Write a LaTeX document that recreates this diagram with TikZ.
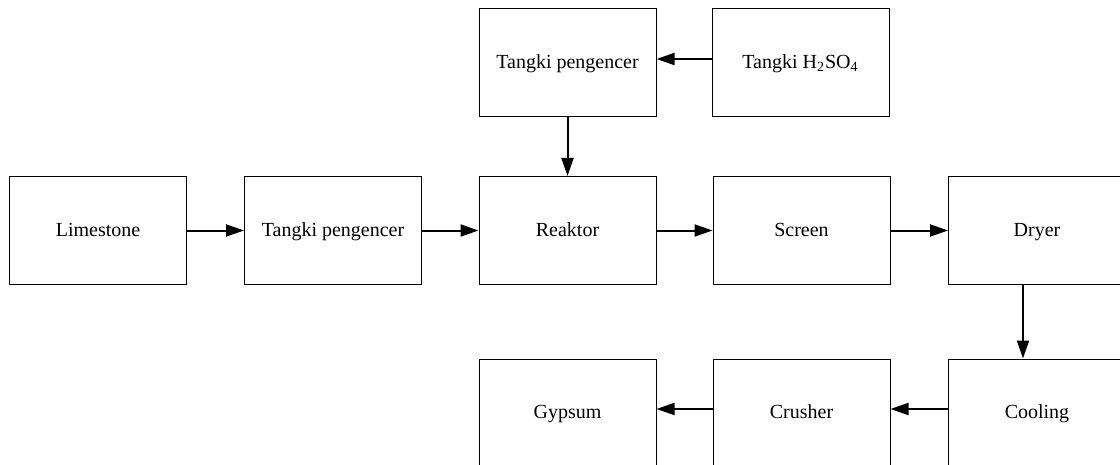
\documentclass[tikz,border=0pt]{standalone}
\usepackage{fontspec}
\setmainfont{Liberation Serif}
\usepackage{tikz}
\usetikzlibrary{arrows.meta}
\tikzstyle{unitbox}=[rectangle,draw=black,line width=0.5pt,
                     minimum width=88.5pt,minimum height=54pt,
                     inner sep=0pt,text height=1.6ex,text depth=0.4ex,
                     font=\normalsize]
\tikzstyle{flow}=[line width=1pt,-{Triangle[length=9pt,width=6pt]}]

\begin{document}
\begin{tikzpicture}[x=0.5pt,y=-0.5pt]
    \clip (0,0) rectangle (1120,465);
    \fill[white] (0,0) rectangle (1120,465);
    % top row
    \node (t1) at ( 567.5,  63) [unitbox]{Tangki pengencer};
    \node (t2) at ( 800.5,  63) [unitbox]{Tangki H\textsubscript{2}SO\textsubscript{4}};
    % middle row
    \node (m1) at (  98,  230.5) [unitbox]{Limestone};
    \node (m2) at ( 333,  230.5) [unitbox]{Tangki pengencer};
    \node (m3) at ( 567.5, 230.5) [unitbox]{Reaktor};
    \node (m4) at ( 801.5, 230.5) [unitbox]{Screen};
    \node (m5) at (1037, 230.5) [unitbox]{Dryer};
    % bottom row
    \node (b1) at ( 567.5, 413) [unitbox]{Gypsum};
    \node (b2) at ( 801.5, 413) [unitbox]{Crusher};
    \node (b3) at (1037, 413) [unitbox]{Cooling};
    \draw[flow] ([yshift=2pt]t2.west) -- ([yshift=2pt]t1.east);
    \draw[flow] (t1) -- (m3);
    \draw[flow] (m1) -- (m2);
    \draw[flow] (m2) -- (m3);
    \draw[flow] (m3) -- (m4);
    \draw[flow] (m4) -- (m5);
    \draw[flow] ([xshift=-7pt]m5.south) -- ([xshift=-7pt]b3.north);
    \draw[flow] ([yshift=2pt]b3.west) -- ([yshift=2pt]b2.east);
    \draw[flow] ([yshift=2pt]b2.west) -- ([yshift=2pt]b1.east);
\end{tikzpicture}
\end{document}
